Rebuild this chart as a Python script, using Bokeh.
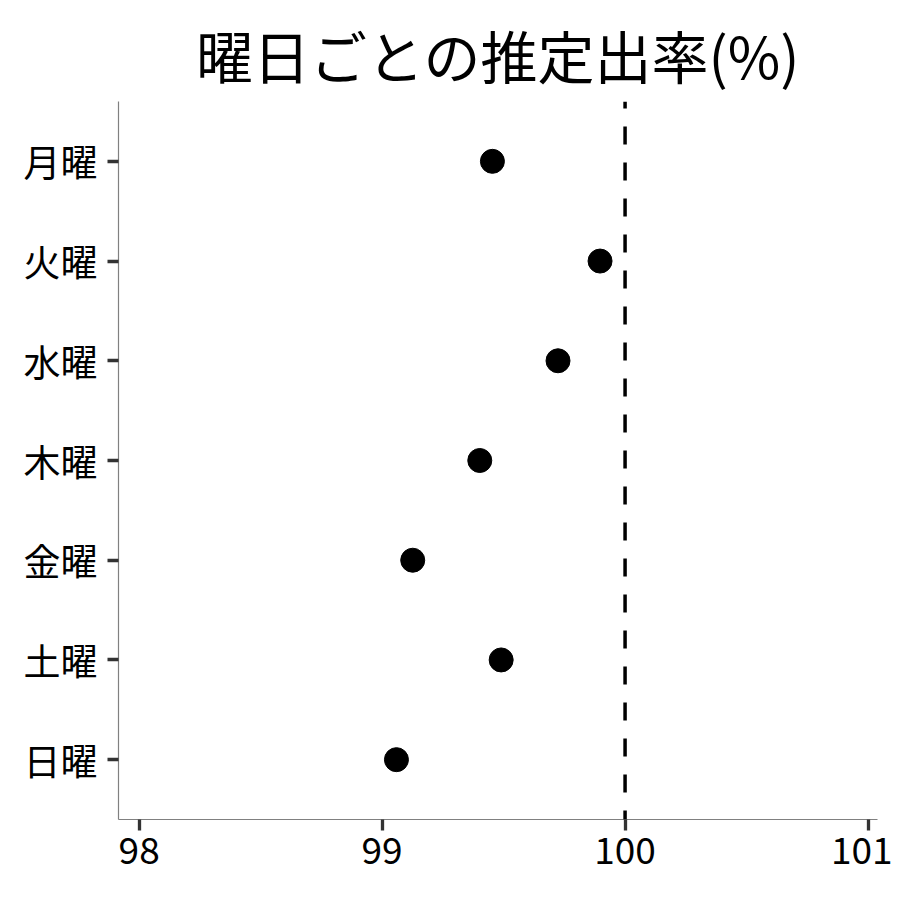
from bokeh.plotting import figure
from bokeh.models import Range1d, FixedTicker, Span
from bokeh.embed import file_html
from bokeh.resources import INLINE

# data
days = ["月曜", "火曜", "水曜", "木曜", "金曜", "土曜", "日曜"]
rates = [99.454, 99.897, 99.724, 99.402, 99.126, 99.490, 99.059]
x_ticks = [98, 99, 100, 101]
reference = 100
title_text = "曜日ごとの推定出率(%)"

FONT = "Noto Sans CJK JP"

n = len(days)
ypos = [n - i for i in range(n)]

p = figure(width=892, height=892, output_backend="svg", toolbar_location=None,
           x_range=Range1d(97.915, 101.039), y_range=Range1d(0.4, n + 0.6),
           min_border_left=118, min_border_top=101, min_border_right=15,
           min_border_bottom=73)

p.title.text = title_text
p.title.text_font = FONT
p.title.text_font_size = "57px"
p.title.text_font_style = "normal"
p.title.align = "center"
p.title.text_color = "black"
p.title.text_line_height = 0.6
p.title.standoff = 14

p.outline_line_color = None
p.xgrid.visible = False
p.ygrid.visible = False
p.background_fill_color = "white"
p.border_fill_color = "white"

for ax in (p.xaxis[0], p.yaxis[0]):
    ax.axis_line_color = "#808080"
    ax.axis_line_width = 1.2
    ax.major_tick_line_color = "#333333"
    ax.major_tick_line_width = 3.3
    ax.major_tick_out = 11
    ax.major_tick_in = 0
    ax.minor_tick_line_color = None
    ax.major_label_text_font = FONT
    ax.major_label_text_font_size = "37px"
    ax.major_label_text_color = "black"

p.xaxis.ticker = FixedTicker(ticks=x_ticks)
p.xaxis.major_label_standoff = 6
p.yaxis.ticker = FixedTicker(ticks=ypos)
p.yaxis.major_label_overrides = {y: d for y, d in zip(ypos, days)}
p.yaxis.major_label_standoff = 10

span = Span(location=reference, dimension="height", line_color="black",
            line_width=3.5, line_dash="18 18", line_dash_offset=11)
p.add_layout(span)

p.scatter(x=rates, y=ypos, size=24, color="black")

open("out.html", "w").write(file_html(p, INLINE))
